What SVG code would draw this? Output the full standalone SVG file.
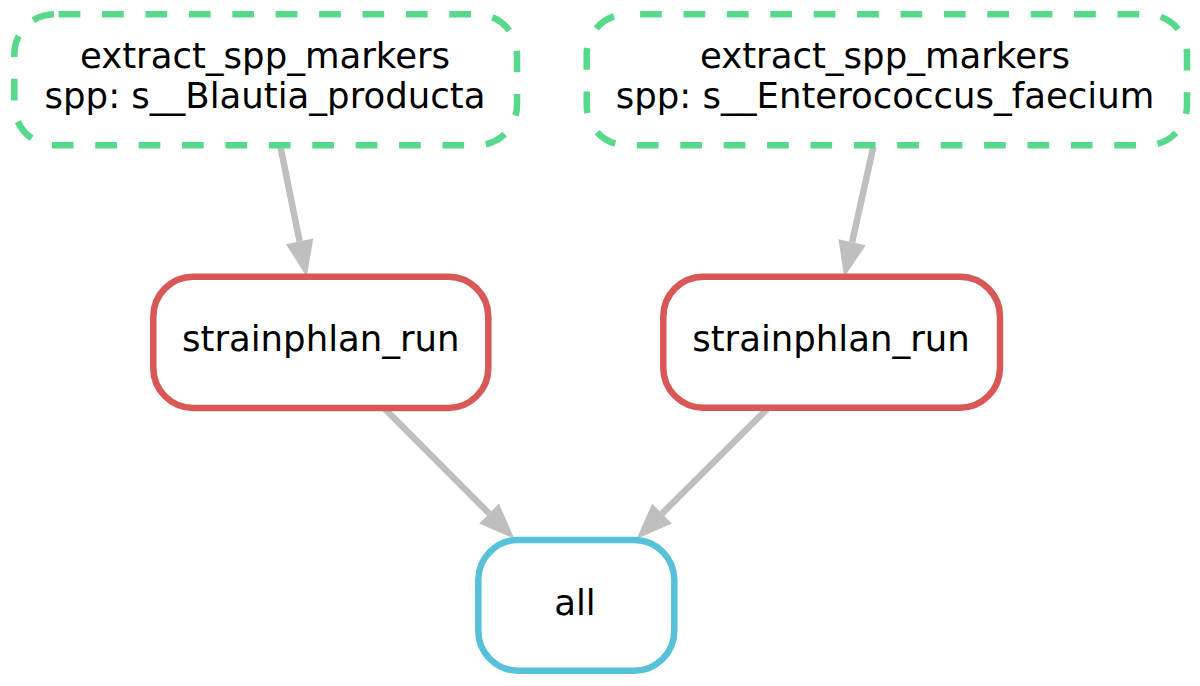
<svg xmlns="http://www.w3.org/2000/svg" width="1200" height="686" viewBox="0 0 1200 686">
  <style>
    .node { fill: #ffffff; stroke-width: 6.5; }
    .green { stroke: #57D98B; stroke-dasharray: 21.7 21.7; }
    .red { stroke: #D95757; }
    .blue { stroke: #57C1D9; }
    .label { font-family: "DejaVu Sans", sans-serif; font-size: 35.5px; fill: #000000; text-anchor: middle; }
    .edge { stroke: #BFBFBF; stroke-width: 6.5; fill: none; marker-end: url(#arrow); }
  </style>
  <defs>
    <marker id="arrow" markerUnits="userSpaceOnUse" markerWidth="40" markerHeight="30" refX="0" refY="14" orient="auto" viewBox="0 0 40 28" overflow="visible">
      <path d="M0,0 L36,14 L0,28 Z" fill="#BFBFBF"/>
    </marker>
  </defs>
  <rect width="1200" height="686" fill="#ffffff"/>

  <g id="connectors">
    <line class="edge" x1="280.5" y1="147" x2="299.6" y2="241.4"/>
    <line class="edge" x1="873.3" y1="147" x2="852.1" y2="242.2"/>
    <line class="edge" x1="384" y1="408" x2="489.1" y2="513.5"/>
    <line class="edge" x1="767" y1="409" x2="662" y2="513.6"/>
  </g>

  <g id="extract_blautia">
    <rect class="node green" x="14.3" y="14.3" width="502.7" height="131" rx="40" ry="40" stroke-dashoffset="39"/>
    <text class="label" x="265" y="68.3">extract_spp_markers</text>
    <text class="label" x="265" y="108.3">spp: s__Blautia_producta</text>
  </g>

  <g id="extract_enterococcus">
    <rect class="node green" x="586.7" y="14.3" width="600.3" height="131" rx="40" ry="40" stroke-dashoffset="30"/>
    <text class="label" x="885" y="68.3">extract_spp_markers</text>
    <text class="label" x="885" y="108.3">spp: s__Enterococcus_faecium</text>
  </g>

  <g id="strainphlan_run_1">
    <rect class="node red" x="153.3" y="276.7" width="335" height="131.3" rx="40" ry="40"/>
    <text class="label" x="320.8" y="350.7">strainphlan_run</text>
  </g>

  <g id="strainphlan_run_2">
    <rect class="node red" x="663.3" y="276.7" width="336.7" height="131" rx="40" ry="40"/>
    <text class="label" x="831" y="350.7">strainphlan_run</text>
  </g>

  <g id="all">
    <rect class="node blue" x="478.3" y="540" width="196" height="130.7" rx="40" ry="40"/>
    <text class="label" x="575" y="615">all</text>
  </g>
</svg>
